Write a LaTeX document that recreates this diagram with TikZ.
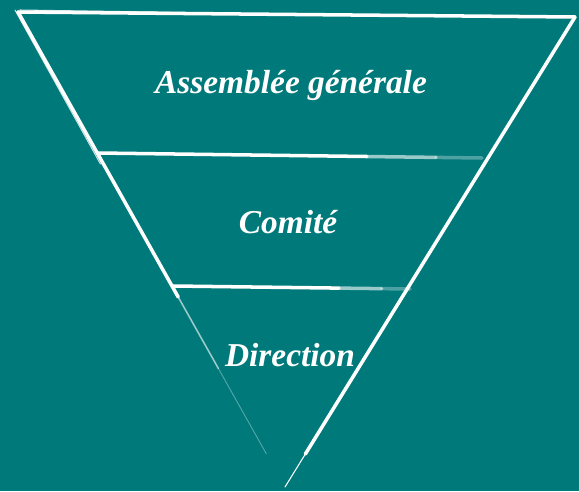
\documentclass[tikz,border=0pt]{standalone}
\usepackage{fontspec}
\setmainfont{Liberation Serif}
\usetikzlibrary{calc}
\definecolor{tealbg}{RGB}{0,121,122}
\begin{document}
\begin{tikzpicture}[x=0.02cm,y=-0.02cm,
    chalk/.style={white, line width=2pt, line cap=round},
    thinchalk/.style={white, line width=0.6pt, line cap=round},
    level/.style={white, font=\fontsize{19}{22}\selectfont\bfseries\itshape}]
  \fill[tealbg] (0,0) rectangle (579,491);

  \coordinate (tl) at (18,12);
  \coordinate (tr) at (575,17);
  \coordinate (apex) at (285,487);
  \coordinate (ag) at (98,153);
  \coordinate (ad) at (482,158);
  \coordinate (cg) at (173,286);
  \coordinate (cd) at (410,289);

  % outer triangle
  \draw[chalk] (tl) -- (tr);
  \draw[thinchalk, opacity=.8] ($(tl)+(2,-2)$) -- ($(tl)!.3!(tr)+(0,-1)$);
  \draw[chalk] (tr) -- ($(tr)!.93!(apex)$);
  \draw[thinchalk] ($(tr)!.93!(apex)$) -- (apex);
  \foreach \a/\b/\o/\w in {0/.6/1/2pt, .6/.75/.6/0.9pt, .75/.93/.35/0.5pt}{
    \draw[chalk, opacity=\o, line width=\w] ($(tl)!\a!(apex)$) -- ($(tl)!\b!(apex)$);
  }
  \draw[thinchalk, opacity=.8] ($(tl)+(-3,-2)$) -- ($(tl)!.32!(apex)+(-3,0)$);

  % levels
  \foreach \a/\b/\o in {0/.7/1, .7/.88/.6, .88/1/.3}{
    \draw[chalk, opacity=\o] ($(ag)!\a!(ad)$) -- ($(ag)!\b!(ad)$);
    \draw[chalk, opacity=\o] ($(cg)!\a!(cd)$) -- ($(cg)!\b!(cd)$);
  }

  \node[level] (assemblee) at (291,85) {Assemblée générale};
  \node[level] (comite) at (288,222) {Comité};
  \node[level] (direction) at (290,355) {Direction};
\end{tikzpicture}
\end{document}
